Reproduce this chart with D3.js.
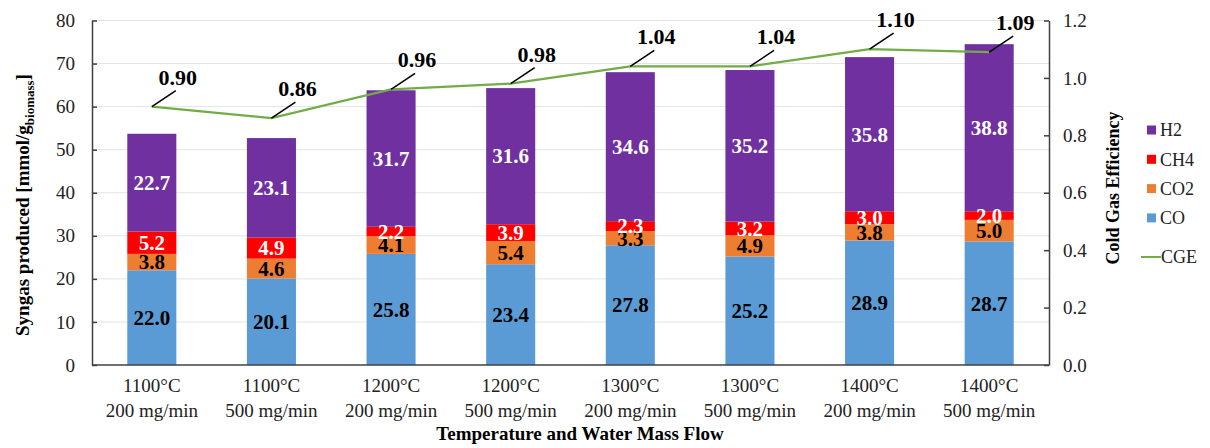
<!DOCTYPE html>
<html>
<head>
<meta charset="utf-8">
<script src="https://cdn.jsdelivr.net/npm/d3@7"></script>
<style>
  body { margin: 0; background: #fff; }
  text { font-family: "Liberation Serif", "Times New Roman", serif; }
</style>
</head>
<body>
<div id="chart"></div>
<script>
// categories (two-line labels)
let temps = ["1100°C", "1100°C", "1200°C", "1200°C", "1300°C", "1300°C", "1400°C", "1400°C"];
let flows = ["200 mg/min", "500 mg/min", "200 mg/min", "500 mg/min", "200 mg/min", "500 mg/min", "200 mg/min", "500 mg/min"];

// stacked series, bottom to top
let co  = [22.0, 20.1, 25.8, 23.4, 27.8, 25.2, 28.9, 28.7];
let co2 = [3.8, 4.6, 4.1, 5.4, 3.3, 4.9, 3.8, 5.0];
let ch4 = [5.2, 4.9, 2.2, 3.9, 2.3, 3.2, 3.0, 2.0];
let h2  = [22.7, 23.1, 31.7, 31.6, 34.6, 35.2, 35.8, 38.8];

// cold gas efficiency line
let cge = [0.90, 0.86, 0.96, 0.98, 1.04, 1.04, 1.10, 1.09];

let leftTicks = [0, 10, 20, 30, 40, 50, 60, 70, 80];
let rightTicks = [0, 0.2, 0.4, 0.6, 0.8, 1.0, 1.2];

let seriesKeys = ["CO", "CO2", "CH4", "H2"];
let seriesColors = {"CO": "#5b9bd5", "CO2": "#ed7d31", "CH4": "#ff0000", "H2": "#7030a0"};
let labelColors = {"CO": "#000", "CO2": "#000", "CH4": "#fff", "H2": "#fff"};

let rows = temps.map((t, i) => ({
    cat: i,
    CO: co[i], CO2: co2[i], CH4: ch4[i], H2: h2[i]
}));

let width = 1210, height = 448;
let plotLeft = 92, plotRight = 1049, plotTop = 20.5, plotBottom = 365;

let svg = d3.select("#chart").append("svg")
    .attr("width", width)
    .attr("height", height);

let x = d3.scaleBand()
    .domain(d3.range(temps.length))
    .range([plotLeft, plotRight])
    .paddingInner(0.59)
    .paddingOuter(0.295);

let y = d3.scaleLinear().domain([0, 80]).range([plotBottom, plotTop]);
let y2 = d3.scaleLinear().domain([0, 1.2]).range([plotBottom, plotTop]);

// gridlines
svg.append("g")
    .selectAll("line")
    .data(leftTicks.filter(t => t > 0))
    .enter().append("line")
    .attr("x1", plotLeft).attr("x2", plotRight)
    .attr("y1", d => y(d)).attr("y2", d => y(d))
    .attr("stroke", "#e3e3e3")
    .attr("stroke-width", 1);

// stacked bars
let stack = d3.stack().keys(seriesKeys)(rows);

let layers = svg.append("g").selectAll("g")
    .data(stack)
    .enter().append("g")
    .attr("fill", d => seriesColors[d.key]);

layers.selectAll("rect")
    .data(d => d)
    .enter().append("rect")
    .attr("x", d => x(d.data.cat))
    .attr("width", x.bandwidth())
    .attr("y", d => y(d[1]))
    .attr("height", d => y(d[0]) - y(d[1]));

// segment labels
stack.forEach(s => {
    svg.append("g").selectAll("text")
        .data(s)
        .enter().append("text")
        .attr("x", d => x(d.data.cat) + x.bandwidth() / 2)
        .attr("y", d => (y(d[0]) + y(d[1])) / 2)
        .attr("dy", "0.35em")
        .attr("text-anchor", "middle")
        .attr("font-size", 21)
        .attr("font-weight", "bold")
        .attr("fill", labelColors[s.key])
        .text(d => (d[1] - d[0]).toFixed(1));
});

// axes
let axisColor = "#404040";

let yAxis = d3.axisLeft(y).tickValues(leftTicks).tickSizeInner(-5).tickSizeOuter(0).tickPadding(17);
let gy = svg.append("g")
    .attr("transform", `translate(${plotLeft},0)`)
    .call(yAxis);

let y2Axis = d3.axisRight(y2).tickValues(rightTicks).tickSizeInner(-5).tickSizeOuter(0).tickPadding(14)
    .tickFormat(d3.format(".1f"));
let gy2 = svg.append("g")
    .attr("transform", `translate(${plotRight},0)`)
    .call(y2Axis);

[gy, gy2].forEach(g => {
    g.select(".domain").attr("stroke", axisColor).attr("stroke-width", 1.5);
    g.selectAll(".tick line").attr("stroke", axisColor).attr("stroke-width", 1.5);
    g.selectAll(".tick text")
        .attr("font-family", "Liberation Serif")
        .attr("font-size", 19)
        .attr("fill", "#222");
});

// x axis line
svg.append("line")
    .attr("x1", plotLeft).attr("x2", plotRight)
    .attr("y1", plotBottom).attr("y2", plotBottom)
    .attr("stroke", axisColor)
    .attr("stroke-width", 1.5);

// x tick labels
let xl = svg.append("g").selectAll("text")
    .data(d3.range(temps.length))
    .enter().append("text")
    .attr("text-anchor", "middle")
    .attr("font-size", 19)
    .attr("fill", "#222");
xl.append("tspan")
    .attr("x", d => x(d) + x.bandwidth() / 2)
    .attr("y", 392)
    .text(d => temps[d]);
xl.append("tspan")
    .attr("x", d => x(d) + x.bandwidth() / 2)
    .attr("y", 417)
    .text(d => flows[d]);

// axis titles
svg.append("text")
    .attr("x", 580).attr("y", 440)
    .attr("text-anchor", "middle")
    .attr("font-size", 19)
    .attr("font-weight", "bold")
    .text("Temperature and Water Mass Flow");

let ytitle = svg.append("text")
    .attr("transform", "translate(29,205) rotate(-90)")
    .attr("text-anchor", "middle")
    .attr("font-size", 19)
    .attr("font-weight", "bold");
ytitle.append("tspan").text("Syngas produced [mmol/g");
ytitle.append("tspan").attr("font-size", 13).attr("dy", 5).text("biomass");
ytitle.append("tspan").attr("dy", -5).text("]");

svg.append("text")
    .attr("transform", "translate(1119,188) rotate(-90)")
    .attr("text-anchor", "middle")
    .attr("font-size", 18)
    .attr("font-weight", "bold")
    .text("Cold Gas Efficiency");

// CGE line
let line = d3.line()
    .x((d, i) => x(i) + x.bandwidth() / 2)
    .y(d => y2(d));

svg.append("path")
    .datum(cge)
    .attr("d", line)
    .attr("fill", "none")
    .attr("stroke", "#70ad47")
    .attr("stroke-width", 2.2);

// CGE labels with leader lines
let cgeLabels = svg.append("g").selectAll("g")
    .data(cge)
    .enter().append("g")
    .attr("transform", (d, i) => `translate(${x(i) + x.bandwidth() / 2},${y2(d)})`);

cgeLabels.append("line")
    .attr("x1", 0).attr("y1", 0)
    .attr("x2", 24).attr("y2", -16)
    .attr("stroke", "#000")
    .attr("stroke-width", 1.5);

cgeLabels.append("text")
    .attr("x", 26).attr("y", -22)
    .attr("text-anchor", "middle")
    .attr("font-size", 22)
    .attr("font-weight", "bold")
    .text(d => d.toFixed(2));

// legend
let legendItems = ["H2", "CH4", "CO2", "CO"];
let legend = svg.append("g").selectAll("g")
    .data(legendItems)
    .enter().append("g")
    .attr("transform", (d, i) => `translate(1147,${130 + i * 29.3})`);

legend.append("rect")
    .attr("x", 0).attr("y", -4.5)
    .attr("width", 9).attr("height", 9)
    .attr("fill", d => seriesColors[d]);

legend.append("text")
    .attr("x", 13).attr("y", 0)
    .attr("dy", "0.35em")
    .attr("font-size", 18)
    .attr("fill", "#222")
    .text(d => d);

let cgeLegend = svg.append("g").attr("transform", "translate(1141,257)");
cgeLegend.append("line")
    .attr("x1", 0).attr("x2", 20)
    .attr("y1", 0).attr("y2", 0)
    .attr("stroke", "#70ad47")
    .attr("stroke-width", 2);
cgeLegend.append("text")
    .attr("x", 20).attr("y", 0)
    .attr("dy", "0.35em")
    .attr("font-size", 18)
    .attr("fill", "#222")
    .text("CGE");
</script>
</body>
</html>
